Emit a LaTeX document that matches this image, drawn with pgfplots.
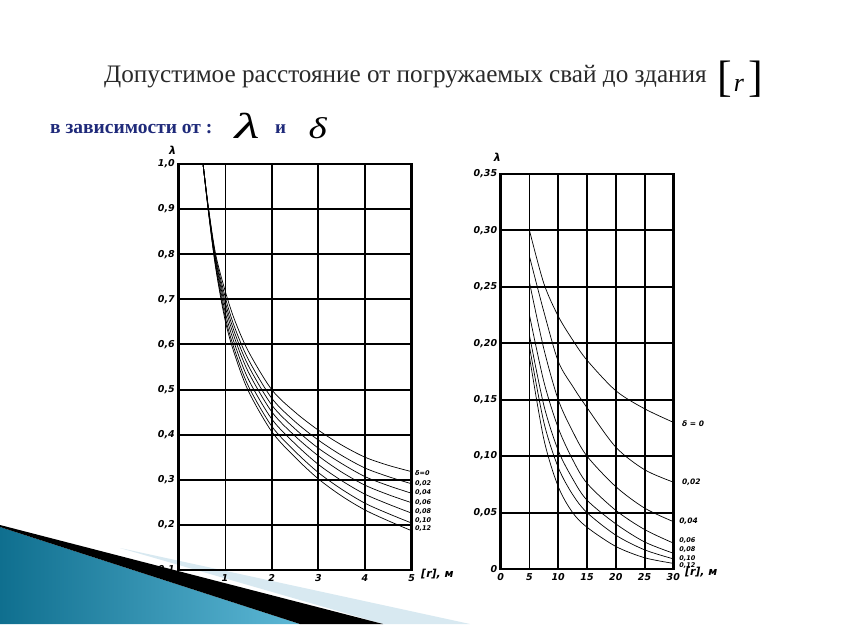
\documentclass[border=0pt]{standalone}
\usepackage{pgfplots}
\pgfplotsset{compat=1.18}
\usepackage{fontspec}
\setmainfont{Liberation Serif}
\newfontfamily\hand{DejaVu Sans}
\definecolor{titlegray}{HTML}{2A2A2A}
\definecolor{navy}{HTML}{1F2A7A}
\definecolor{tealdark}{HTML}{0F6F8F}
\definecolor{teallight}{HTML}{5DB8D6}
\definecolor{paleblue}{HTML}{D8E9F1}
\pgfplotsset{
  chart/.style={
    scale only axis, anchor=south west, clip=false,
    axis line style={line width=2.6pt, black},
    grid=major, major grid style={line width=2pt, black},
    major tick length=0pt,
    tick label style={font=\hand\bfseries\itshape\fontsize{9.5}{10}\selectfont},
    xticklabel style={yshift=-1pt},
  },
  crv/.style={black, solid, line width=0.7pt, smooth, no markers},
  thin grid/.style={major grid style={line width=0.7pt, black}},
}
\newcommand{\lab}{\hand\bfseries\itshape\fontsize{6.5}{6.5}\selectfont}
\newcommand{\ax}{\hand\bfseries\itshape\fontsize{11}{11}\selectfont}
\begin{document}
\begin{tikzpicture}[x=1pt,y=1pt]
\fill[white] (0,0) rectangle (851,624);
% slide decoration
\shade[left color=tealdark, right color=teallight] (0,97) -- (300,0) -- (0,0) -- cycle;
\fill[paleblue] (120,76) -- (470,0) -- (383,0) -- cycle;
\fill[black] (0,97) -- (0,99) -- (383,0) -- (300,0) -- cycle;
% titles
\node[anchor=base west, text=titlegray, font=\fontsize{25.2}{28}\selectfont, inner sep=0pt] at (104,541) {Допустимое расстояние от погружаемых свай до здания};
\node[anchor=base, inner sep=0pt] at (740,532) {{\fontsize{44}{44}\selectfont[}\hspace{2pt}{\fontsize{26}{26}\selectfont\textit{r}}\hspace{4pt}{\fontsize{44}{44}\selectfont]}};
\node[anchor=base west, text=navy, font=\bfseries\fontsize{19.5}{21}\selectfont, inner sep=0pt] at (50,490) {в зависимости от :};
\node[anchor=base, inner sep=0pt] at (247,485) {\fontsize{36}{36}\selectfont\scalebox{1.6}[1]{\textit{λ}}};
\node[anchor=base west, text=navy, font=\bfseries\fontsize{19}{21}\selectfont, inner sep=0pt] at (275,490) {и};
\node[anchor=base, inner sep=0pt] at (318,485) {\fontsize{30}{30}\selectfont\scalebox{1.3}[1]{\textit{δ}}};
% left chart
\begin{axis}[chart, at={(178.3pt,54pt)}, width=233.4pt, height=406pt,
  xmin=0, xmax=5, ymin=0.1, ymax=1.0,
  xtick={2,3,4,5}, xticklabels={2,3,4,5},
  extra x ticks={1}, extra x tick labels={1}, extra x tick style={thin grid},
  ytick={0.1,0.2,0.3,0.4,0.5,0.6,0.7,0.8,0.9,1.0},
  yticklabels={{0,1},{0,2},{0,3},{0,4},{0,5},{0,6},{0,7},{0,8},{0,9},{1,0}},
]
\addplot[crv] coordinates {(0.53,1.0) (0.65,0.90) (0.8,0.80) (1.0,0.72) (1.2,0.656) (1.5,0.585) (2,0.50) (2.5,0.45) (3,0.41) (3.5,0.377) (4,0.35) (4.5,0.332) (5,0.318)};
\addplot[crv] coordinates {(0.53,1.0) (0.65,0.898) (0.8,0.794) (1.0,0.707) (1.2,0.640) (1.5,0.567) (2,0.481) (2.5,0.429) (3,0.388) (3.5,0.354) (4,0.326) (4.5,0.307) (5,0.291)};
\addplot[crv] coordinates {(0.53,1.0) (0.65,0.896) (0.8,0.789) (1.0,0.696) (1.2,0.628) (1.5,0.553) (2,0.466) (2.5,0.413) (3,0.370) (3.5,0.336) (4,0.307) (4.5,0.287) (5,0.270)};
\addplot[crv] coordinates {(0.53,1.0) (0.65,0.895) (0.8,0.784) (1.0,0.686) (1.2,0.616) (1.5,0.539) (2,0.451) (2.5,0.397) (3,0.353) (3.5,0.317) (4,0.288) (4.5,0.267) (5,0.249)};
\addplot[crv] coordinates {(0.53,1.0) (0.65,0.893) (0.8,0.779) (1.0,0.674) (1.2,0.603) (1.5,0.523) (2,0.435) (2.5,0.380) (3,0.334) (3.5,0.298) (4,0.268) (4.5,0.246) (5,0.226)};
\addplot[crv] coordinates {(0.53,1.0) (0.65,0.891) (0.8,0.774) (1.0,0.663) (1.2,0.590) (1.5,0.508) (2,0.419) (2.5,0.363) (3,0.316) (3.5,0.279) (4,0.248) (4.5,0.225) (5,0.204)};
\addplot[crv] coordinates {(0.53,1.0) (0.65,0.89) (0.8,0.77) (1.0,0.655) (1.2,0.58) (1.5,0.497) (2,0.407) (2.5,0.35) (3,0.302) (3.5,0.264) (4,0.233) (4.5,0.209) (5,0.187)};
\node[anchor=west, inner sep=0pt] at (axis cs:5.07,0.316) {\lab δ=0};
\node[anchor=west, inner sep=0pt] at (axis cs:5.07,0.292) {\lab 0,02};
\node[anchor=west, inner sep=0pt] at (axis cs:5.07,0.271) {\lab 0,04};
\node[anchor=west, inner sep=0pt] at (axis cs:5.07,0.250) {\lab 0,06};
\node[anchor=west, inner sep=0pt] at (axis cs:5.07,0.229) {\lab 0,08};
\node[anchor=west, inner sep=0pt] at (axis cs:5.07,0.210) {\lab 0,10};
\node[anchor=west, inner sep=0pt] at (axis cs:5.07,0.191) {\lab 0,12};
\node[anchor=west, inner sep=0pt] at (axis cs:5.2,0.092) {\ax [r], м};
\node[inner sep=0pt] at (axis cs:-0.12,1.03) {\hand\bfseries\itshape\fontsize{11}{11}\selectfont λ};
\end{axis}
% right chart
\begin{axis}[chart, at={(500.7pt,55pt)}, width=172.6pt, height=395pt,
  xmin=0, xmax=30, ymin=0, ymax=0.35,
  xtick={0,10,15,20,25,30}, xticklabels={0,10,15,20,25,30},
  extra x ticks={5}, extra x tick labels={5}, extra x tick style={thin grid},
  ytick={0,0.05,0.10,0.15,0.20,0.25,0.30,0.35},
  yticklabels={{0},{0,05},{0,10},{0,15},{0,20},{0,25},{0,30},{0,35}},
]
\addplot[crv] coordinates {(5,0.300) (7.5,0.253) (10,0.224) (12.5,0.203) (15,0.185) (20,0.158) (25,0.142) (30,0.130)};
\addplot[crv] coordinates {(5,0.277) (7.5,0.228) (10,0.184) (12.5,0.162) (15,0.143) (20,0.108) (25,0.088) (30,0.077)};
\addplot[crv] coordinates {(5,0.254) (7.5,0.195) (10,0.150) (12.5,0.122) (15,0.100) (20,0.073) (25,0.054) (30,0.042)};
\addplot[crv] coordinates {(5,0.225) (7.5,0.166) (10,0.125) (12.5,0.097) (15,0.076) (20,0.052) (25,0.035) (30,0.023)};
\addplot[crv] coordinates {(5,0.207) (7.5,0.145) (10,0.105) (12.5,0.080) (15,0.061) (20,0.040) (25,0.024) (30,0.014)};
\addplot[crv] coordinates {(5,0.197) (7.5,0.130) (10,0.090) (12.5,0.066) (15,0.050) (20,0.030) (25,0.017) (30,0.009)};
\addplot[crv] coordinates {(5,0.188) (7.5,0.115) (10,0.073) (12.5,0.050) (15,0.037) (20,0.020) (25,0.010) (30,0.005)};
\node[anchor=west, inner sep=0pt] at (axis cs:31.5,0.129) {\hand\bfseries\itshape\fontsize{7.5}{7.5}\selectfont δ = 0};
\node[anchor=west, inner sep=0pt] at (axis cs:31.5,0.077) {\hand\bfseries\itshape\fontsize{7.5}{7.5}\selectfont 0,02};
\node[anchor=west, inner sep=0pt] at (axis cs:31,0.0425) {\hand\bfseries\itshape\fontsize{7.5}{7.5}\selectfont 0,04};
\node[anchor=west, inner sep=0pt] at (axis cs:31,0.025) {\lab 0,06};
\node[anchor=west, inner sep=0pt] at (axis cs:31,0.017) {\lab 0,08};
\node[anchor=west, inner sep=0pt] at (axis cs:31,0.0097) {\lab 0,10};
\node[anchor=west, inner sep=0pt] at (axis cs:31,0.0035) {\lab 0,12};
\node[anchor=west, inner sep=0pt] at (axis cs:32,-0.003) {\ax [r], м};
\node[inner sep=0pt] at (axis cs:-0.6,0.365) {\hand\bfseries\itshape\fontsize{11}{11}\selectfont λ};
\end{axis}
\end{tikzpicture}
\end{document}
